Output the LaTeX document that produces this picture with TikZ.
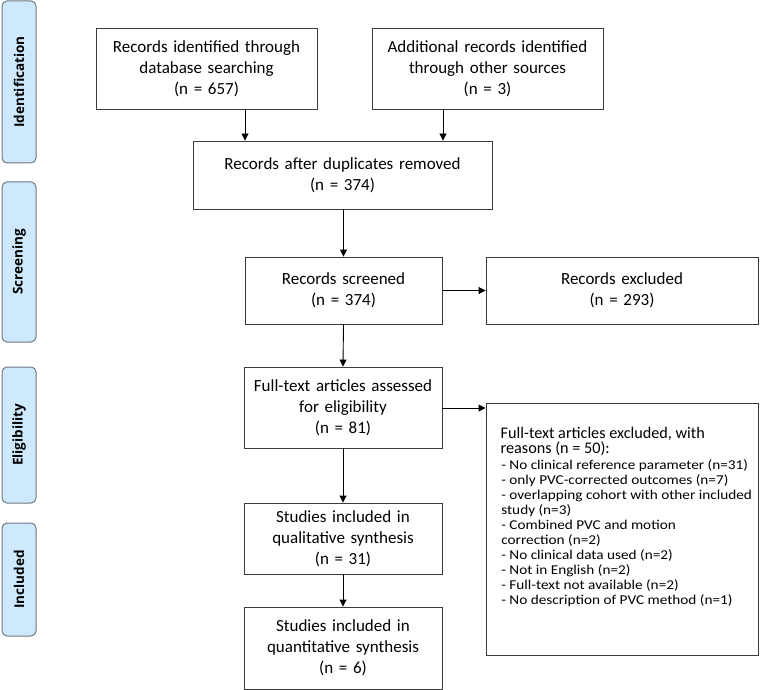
\documentclass[tikz,border=0pt]{standalone}
\usepackage{fontspec}
\usepackage{graphicx}
\setmainfont{Carlito}
\newfontfamily\sidefont{Open Sans}
\newcommand\exitem[1]{\scalebox{1.13}[1]{#1}}
\newcommand\exhead[1]{\scalebox{1.2}[1.2]{#1}}
\usetikzlibrary{arrows.meta}
\definecolor{sidefill}{RGB}{206,233,251}
\definecolor{sideedge}{RGB}{110,120,130}
\definecolor{boxedge}{RGB}{60,60,60}
\tikzset{
  flowbox/.style={draw=boxedge, line width=0.9pt, inner sep=0pt, align=center,
    font=\fontsize{17}{21}\selectfont},
  sidebox/.style={draw=sideedge, fill=sidefill, line width=1pt, rounded corners=5pt,
    inner sep=0pt, rotate=90,
    font=\sidefont\bfseries\fontsize{13.5}{15}\selectfont},
  flowarrow/.style={-{Triangle[length=7pt,width=7pt]}, line width=0.9pt, draw=black}
}
\begin{document}
\begin{tikzpicture}[x=1pt,y=-1pt]
\useasboundingbox (0,0) rectangle (761,690);
% side labels
\node[sidebox, minimum width=162pt, minimum height=34pt] (sid) at (19,82) {Identification};
\node[sidebox, minimum width=160pt, minimum height=34pt] (sscr) at (19,262) {Screening};
\node[sidebox, minimum width=136pt, minimum height=34pt] (selig) at (19,435) {Eligibility};
\node[sidebox, minimum width=113pt, minimum height=34pt] (sinc) at (19,579.5) {Included};
% boxes
\node[flowbox, text width=215pt, minimum width=221pt, minimum height=81pt] (b1) at (206.5,68.5)
  {Records identified through\\database searching\\(n = 657)};
\node[flowbox, text width=225pt, minimum width=231pt, minimum height=81pt] (b2) at (487.5,68.5)
  {Additional records identified\\through other sources\\(n = 3)};
\node[flowbox, text width=290pt, minimum width=299pt, minimum height=68pt] (b3) at (342.5,175)
  {Records after duplicates removed\\(n = 374)};
\node[flowbox, text width=190pt, minimum width=197pt, minimum height=67pt] (b4) at (343.5,290.5)
  {Records screened\\(n = 374)};
\node[flowbox, text width=262pt, minimum width=272pt, minimum height=67pt] (b5) at (622,290.5)
  {Records excluded\\(n = 293)};
\node[flowbox, text width=190pt, minimum width=198pt, minimum height=81pt] (b6) at (343,407.5)
  {Full-text articles assessed\\for eligibility\\(n = 81)};
\node[flowbox, minimum width=272pt, minimum height=252pt] (b7) at (622,529) {};
\node[anchor=north west, inner sep=0pt, align=left,
  font=\fontsize{13.5}{15.4}\selectfont] (b7head) at (500.5,427)
  {\exhead{Full-text articles excluded, with}\\\exhead{reasons (n = 50):}};
\node[anchor=north west, inner sep=0pt, align=left,
  font=\fontsize{13.5}{15.1}\selectfont] (b7list) at (500,459)
  {\exitem{\hspace*{1pt}- No clinical reference parameter (n=31)}\\
   \exitem{\hspace*{1pt}- only PVC-corrected outcomes (n=7)}\\
   \exitem{\hspace*{1pt}- overlapping cohort with other included}\\
   \exitem{\hspace*{1pt}study (n=3)}\\
   \exitem{\hspace*{1pt}- Combined PVC and motion}\\
   \exitem{\hspace*{1pt}correction (n=2)}\\
   \exitem{\hspace*{1pt}- No clinical data used (n=2)}\\
   \exitem{\hspace*{1pt}- Not in English (n=2)}\\
   \exitem{\hspace*{1pt}- Full-text not available (n=2)}\\
   \exitem{\hspace*{1pt}- No description of PVC method (n=1)}};
\node[flowbox, text width=190pt, minimum width=198pt, minimum height=71pt] (b8) at (343,538.5)
  {Studies included in\\qualitative synthesis\\(n = 31)};
\node[flowbox, text width=190pt, minimum width=198pt, minimum height=82pt] (b9) at (343,648)
  {Studies included in\\quantitative synthesis\\(n = 6)};
% arrows
\draw[flowarrow] (b1.south -| 245,0) -- (b3.north -| 245,0);
\draw[flowarrow] (b2.south -| 443,0) -- (b3.north -| 443,0);
\draw[flowarrow] (b3.south -| b4.north) -- (b4.north);
\draw[flowarrow] (b4.east) -- (b5.west);
\draw[flowarrow] (b4.south) -- (b6.north);
\draw[flowarrow] (b6.east |- 0,408) -- (b7.west |- 0,408);
\draw[flowarrow] (b6.south) -- (b8.north);
\draw[flowarrow] (b8.south) -- (b9.north);
\end{tikzpicture}
\end{document}
